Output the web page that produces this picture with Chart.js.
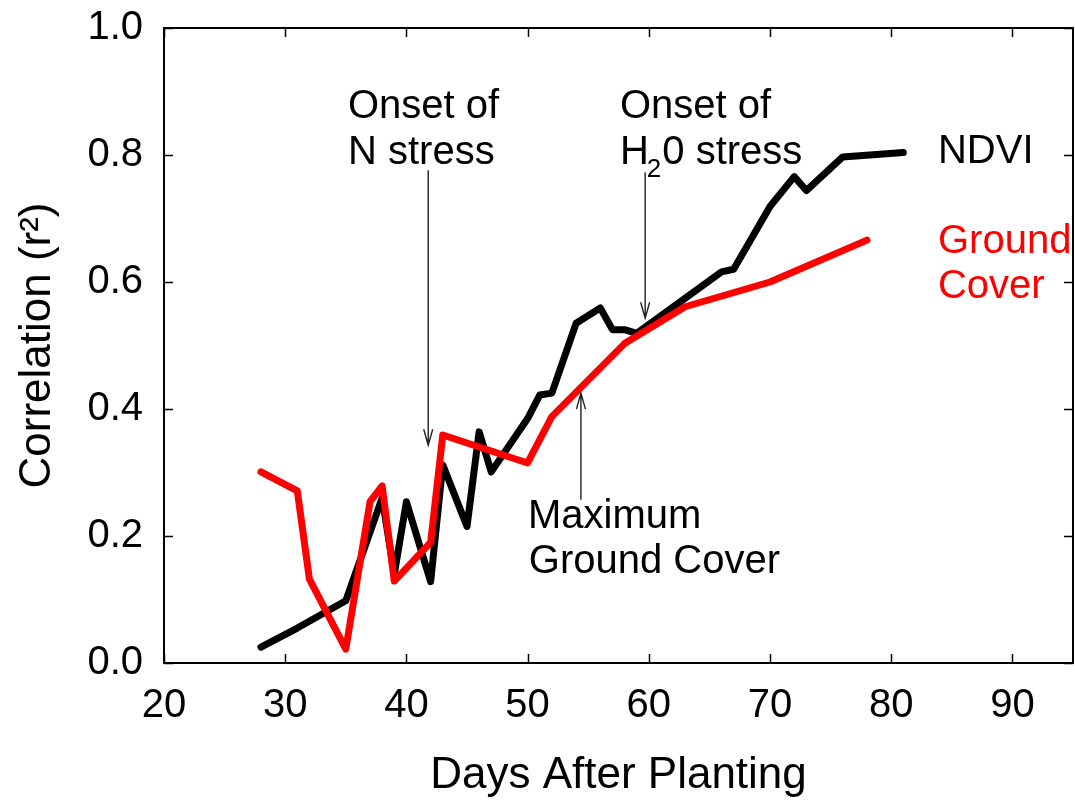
<!DOCTYPE html>
<html>
<head>
<meta charset="utf-8">
<script src="https://cdn.jsdelivr.net/npm/chart.js@4.4.1/dist/chart.umd.min.js"></script>
<style>
  html, body { margin: 0; padding: 0; background: #fff; }
  #wrap { width: 1075px; height: 802px; position: relative; }
</style>
</head>
<body>
<div id="wrap"><canvas id="lineChart"></canvas></div>
<script>
// NDVI correlation vs days after planting
const ndviDays = [28, 31, 35, 38, 39, 40, 42, 43, 45, 46, 47, 50, 51, 52, 54, 56, 57, 58, 59, 66, 67, 70, 72, 73, 76, 81];
const ndviR2 = [0.025, 0.055, 0.098, 0.26, 0.14, 0.254, 0.128, 0.312, 0.215, 0.364, 0.301, 0.385, 0.422, 0.425, 0.535, 0.559, 0.525, 0.525, 0.519, 0.616, 0.62, 0.719, 0.766, 0.744, 0.797, 0.804];

// ground cover correlation
const coverDays = [28, 31, 32, 35, 37, 38, 39, 42, 43, 50, 52, 58, 63, 70, 78];
const coverR2 = [0.301, 0.271, 0.132, 0.022, 0.254, 0.279, 0.129, 0.19, 0.359, 0.315, 0.388, 0.503, 0.561, 0.600, 0.666];

const xTicks = [20, 30, 40, 50, 60, 70, 80, 90];
const yTicks = [0.0, 0.2, 0.4, 0.6, 0.8, 1.0];

const FONT = '"Liberation Sans", Arial, Helvetica, sans-serif';

// text notes, anchored in data coordinates (x = days, y = r2 baseline)
const notes = [
    { text: 'Onset of', x: 35.18, y: 0.858, color: '#000' },
    { text: 'N stress', x: 35.18, y: 0.786, color: '#000' },
    { text: 'Onset of', x: 57.62, y: 0.858, color: '#000' },
    { text: 'H|2|0 stress', x: 57.62, y: 0.786, color: '#000' },
    { text: 'Maximum', x: 50.03, y: 0.2126, color: '#000' },
    { text: 'Ground Cover', x: 50.1, y: 0.1417, color: '#000' },
    { text: 'NDVI', x: 83.86, y: 0.787, color: '#000' },
    { text: 'Ground', x: 83.86, y: 0.6457, color: '#ff0000' },
    { text: 'Cover', x: 83.86, y: 0.5748, color: '#ff0000' }
];

const arrows = [
    { x: 41.8, from: 0.776, to: 0.343 },
    { x: 59.7, from: 0.773, to: 0.543 },
    { x: 54.4, from: 0.257, to: 0.425 }
];

const toPoints = (xs, ys) => xs.map((d, i) => ({ x: d, y: ys[i] }));

const decorPlugin = {
    id: 'decor',
    afterDatasetsDraw(chart) {
        const { ctx, chartArea: a, scales: { x, y } } = chart;
        ctx.save();

        // frame
        ctx.strokeStyle = '#000';
        ctx.lineWidth = 2;
        ctx.strokeRect(a.left, a.top, a.right - a.left, a.bottom - a.top);

        // inward ticks on all four sides
        const tl = 9;
        ctx.lineWidth = 1.5;
        ctx.beginPath();
        xTicks.forEach(v => {
            const px = Math.round(x.getPixelForValue(v)) + 0.5;
            ctx.moveTo(px, a.bottom); ctx.lineTo(px, a.bottom - tl);
            ctx.moveTo(px, a.top); ctx.lineTo(px, a.top + tl);
        });
        yTicks.forEach(v => {
            const py = Math.round(y.getPixelForValue(v)) + 0.5;
            ctx.moveTo(a.left, py); ctx.lineTo(a.left + tl, py);
            ctx.moveTo(a.right, py); ctx.lineTo(a.right - tl, py);
        });
        ctx.stroke();

        // arrows
        ctx.strokeStyle = '#222';
        ctx.lineWidth = 1.4;
        arrows.forEach(ar => {
            const px = x.getPixelForValue(ar.x);
            const y0 = y.getPixelForValue(ar.from);
            const y1 = y.getPixelForValue(ar.to);
            const dir = y1 > y0 ? 1 : -1;
            ctx.beginPath();
            ctx.moveTo(px, y0); ctx.lineTo(px, y1);
            ctx.moveTo(px - 4.5, y1 - dir * 16);
            ctx.lineTo(px, y1);
            ctx.lineTo(px + 4.5, y1 - dir * 16);
            ctx.stroke();
        });

        // notes
        ctx.textBaseline = 'alphabetic';
        ctx.textAlign = 'left';
        notes.forEach(n => {
            const px = x.getPixelForValue(n.x);
            const py = y.getPixelForValue(n.y);
            ctx.fillStyle = n.color;
            const parts = n.text.split('|');
            if (parts.length === 3) {
                // subscript in the middle part
                ctx.font = '40px ' + FONT;
                ctx.fillText(parts[0], px, py);
                let cx = px + ctx.measureText(parts[0]).width - 2;
                ctx.font = '26px ' + FONT;
                ctx.fillText(parts[1], cx, py + 13);
                cx += ctx.measureText(parts[1]).width + 1;
                ctx.font = '40px ' + FONT;
                ctx.fillText(parts[2], cx, py);
            } else {
                ctx.font = '40px ' + FONT;
                ctx.fillText(n.text, px, py);
            }
        });

        ctx.restore();
    }
};

const ctx = document.getElementById('lineChart').getContext('2d');

new Chart(ctx, {
    type: 'line',
    data: {
        datasets: [
            {
                label: 'NDVI',
                data: toPoints(ndviDays, ndviR2),
                borderColor: '#000000',
                borderWidth: 7,
                pointRadius: 0,
                tension: 0,
                borderJoinStyle: 'round',
                borderCapStyle: 'round',
                fill: false,
                order: 1
            },
            {
                label: 'Ground Cover',
                data: toPoints(coverDays, coverR2),
                borderColor: '#ff0000',
                borderWidth: 7,
                pointRadius: 0,
                tension: 0,
                borderJoinStyle: 'round',
                borderCapStyle: 'round',
                fill: false,
                order: 0
            }
        ]
    },
    options: {
        responsive: true,
        maintainAspectRatio: false,
        animation: false,
        layout: {
            padding: { top: 28, right: 2, left: 0, bottom: 0 }
        },
        plugins: {
            legend: { display: false },
            tooltip: { enabled: false }
        },
        scales: {
            x: {
                type: 'linear',
                min: 20,
                max: 95,
                afterBuildTicks: scale => { scale.ticks = xTicks.map(v => ({ value: v })); },
                afterFit: scale => {
                    scale.height = 139;
                    scale.paddingLeft = 0;
                    scale.paddingRight = 0;
                },
                grid: { display: false, drawTicks: false },
                border: { display: false },
                ticks: {
                    color: '#000',
                    font: { family: FONT, size: 40 },
                    padding: 19,
                    maxRotation: 0,
                    callback: v => String(v)
                },
                title: {
                    display: true,
                    text: 'Days After Planting',
                    color: '#000',
                    font: { family: FONT, size: 44 },
                    padding: { top: 0, bottom: 0 }
                }
            },
            y: {
                type: 'linear',
                min: 0,
                max: 1,
                afterBuildTicks: scale => { scale.ticks = yTicks.map(v => ({ value: v })); },
                afterFit: scale => {
                    scale.width = 164;
                    scale.paddingTop = 0;
                    scale.paddingBottom = 0;
                },
                grid: { display: false, drawTicks: false },
                border: { display: false },
                ticks: {
                    color: '#000',
                    font: { family: FONT, size: 40 },
                    padding: 21,
                    callback: v => Number(v).toFixed(1)
                },
                title: {
                    display: true,
                    text: 'Correlation (r²)',
                    color: '#000',
                    font: { family: FONT, size: 44 },
                    padding: { top: 11, bottom: 0 }
                }
            }
        }
    },
    plugins: [decorPlugin]
});
</script>
</body>
</html>
